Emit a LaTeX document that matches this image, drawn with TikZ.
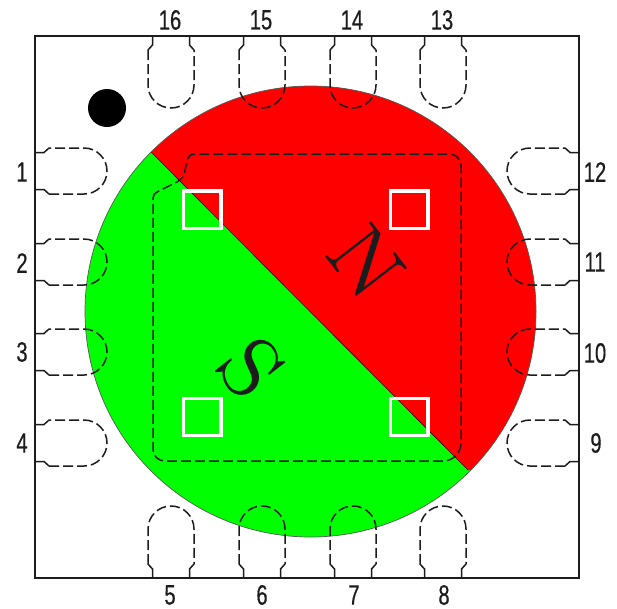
\documentclass[tikz,border=0pt]{standalone}
\usepackage{fontspec}
\newfontfamily\lblfont[FakeStretch=0.72,FakeBold=0.4]{Liberation Sans}
\definecolor{polered}{RGB}{255,0,0}
\definecolor{polegreen}{RGB}{0,255,0}
\definecolor{inkk}{RGB}{28,28,28}
\tikzset{
  pin/.style={font=\lblfont\fontsize{28}{28}\selectfont,text=inkk,inner sep=0pt},
  pole/.style={text=inkk,inner sep=0pt,xscale=7.6,yscale=9.8,rotate=-45,transform shape},
  padline/.style={draw=inkk,line width=1.5pt,dash pattern=on 10pt off 4pt},
  padstem/.style={draw=inkk,line width=1.5pt},
  whitesq/.style={draw=white,line width=3.2pt,fill=none,minimum size=37.5pt,inner sep=0pt,shape=rectangle}
}
% centre x, centre y, inward unit (x,y), lateral unit (x,y)
\newcommand{\padshape}[6]{%
  \begin{scope}[shift={(#1,#2)},x={(#3pt,#4pt)},y={(#5pt,#6pt)}]
    \draw[padstem] (0,-18.5) -- (9,-18.5) -- (14,-23);
    \draw[padstem] (0,18.5) -- (9,18.5) -- (14,23);
    \draw[padline] (14,-23) -- (49,-23)
      .. controls (61.7,-23) and (72,-12.7) .. (72,0)
      .. controls (72,12.7) and (61.7,23) .. (49,23)
      -- (14,23);
  \end{scope}}
\begin{document}
\begin{tikzpicture}[x=1pt,y=-1pt]
\useasboundingbox (0,0) rectangle (617,608);
\fill[white] (0,0) rectangle (617,608);
% magnet disc
\begin{scope}
  \clip (310.5,311.5) circle[radius=225.5pt];
  \fill[polegreen] (80,80) rectangle (540,540);
  \fill[polered] (151,152) -- (468,470) -- (560,470) -- (560,60) -- (151,60) -- cycle;
\end{scope}
\draw[draw=black!75!red,line width=0.6pt] (151,152) -- (468,470);
\draw[draw=black!65,line width=0.7pt] (310.5,311.5) circle[radius=225.5pt];
% package outline
\draw[draw=inkk,line width=2pt] (35,36) rectangle (579,578);
% pads
\padshape{171}{36}{0}{-1}{1}{0}
\padshape{262}{36}{0}{-1}{1}{0}
\padshape{353}{36}{0}{-1}{1}{0}
\padshape{443}{36}{0}{-1}{1}{0}
\padshape{171}{578}{0}{1}{1}{0}
\padshape{262}{578}{0}{1}{1}{0}
\padshape{353}{578}{0}{1}{1}{0}
\padshape{443}{578}{0}{1}{1}{0}
\padshape{35}{171}{1}{0}{0}{1}
\padshape{35}{262}{1}{0}{0}{1}
\padshape{35}{352}{1}{0}{0}{1}
\padshape{35}{443}{1}{0}{0}{1}
\padshape{579}{171}{-1}{0}{0}{1}
\padshape{579}{262}{-1}{0}{0}{1}
\padshape{579}{352}{-1}{0}{0}{1}
\padshape{579}{443}{-1}{0}{0}{1}
% exposed pad
\draw[padline] (153,198) .. controls (153,195) and (155,193) .. (157,192)
  -- (177,182) .. controls (182,179) and (185,175) .. (185,170)
  -- (188,158) .. controls (189,155) and (192,154) .. (195,154)
  -- (449,154) .. controls (456,154) and (461,159) .. (461,166)
  -- (461,443) .. controls (461,453) and (453,461) .. (443,461)
  -- (165,461) .. controls (158,461) and (153,456) .. (153,449) -- cycle;
% sensors
\node[whitesq] (sA) at (202.3,209.8) {};
\node[whitesq] (sB) at (409.3,209.8) {};
\node[whitesq] (sC) at (202.3,417) {};
\node[whitesq] (sD) at (409.3,417) {};
% pin 1 dot
\fill[black] (107,108) circle[radius=19pt];
% poles
\node[pole] (north) at (366,262) {$N$};
\node[pole] (south) at (250,366) {$S$};
% pin numbers
\node[pin] (p16) at (170,20) {16};
\node[pin] (p15) at (261,20) {15};
\node[pin] (p14) at (352,20) {14};
\node[pin] (p13) at (442,20) {13};
\node[pin] (p5) at (170,595) {5};
\node[pin] (p6) at (262,595) {6};
\node[pin] (p7) at (354,595) {7};
\node[pin] (p8) at (444,595) {8};
\node[pin] (p1) at (22,172) {1};
\node[pin] (p2) at (22,263) {2};
\node[pin] (p3) at (22,352) {3};
\node[pin] (p4) at (22,443) {4};
\node[pin] (p12) at (595,172) {12};
\node[pin] (p11) at (595,262) {11};
\node[pin] (p10) at (595,353) {10};
\node[pin] (p9) at (596,443) {9};
\end{tikzpicture}
\end{document}
